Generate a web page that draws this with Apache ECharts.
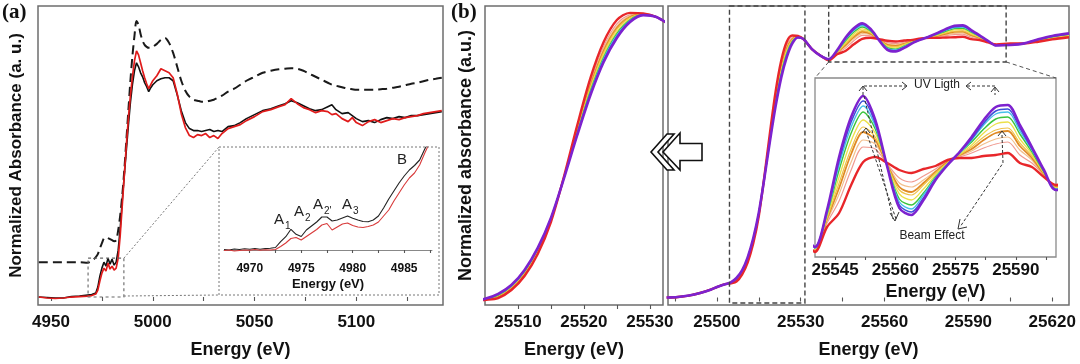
<!DOCTYPE html>
<html><head><meta charset="utf-8">
<script src="https://cdn.jsdelivr.net/npm/echarts@6/dist/echarts.min.js"></script>
<style>html,body{margin:0;padding:0;background:#fff}#c{width:1080px;height:364px}</style>
</head><body><div id="c"></div>
<script>
// ---------- Panel (a) main spectra ----------
const energyA = [4944,4948,4952,4956,4960,4964,4968,4970,4972,
 4973,4974,4975,4976,4977,4978,4979,4980,4981,4982,4983,4984,4985,4986,4987,4988,4989,4990,4991,4992,4993,4994,4995,4996,4997,4998,4999,5000,
 5002,5004,5006,5008,5010,5012,5014,5016,5018,5020,5022,5024,5026,5028,5030,5032,5034,
 5037,5040,5043,5046,5050,5054,5058,5062,5065,5068,5071,5074,5077,5080,5083,5086,
 5088,5090,5093,5096,5098,5100,5103,5106,5109,5112,5115,5118,5121,5124,5127,5130,5133,5136,5139,5142];
const blackA = [0.00,-0.005,-0.01,-0.01,0.005,0.01,0.02,0.025,0.04,
 0.10,0.21,0.29,0.35,0.31,0.39,0.33,0.38,0.32,0.35,0.47,0.69,0.97,1.22,1.47,1.72,1.95,2.13,2.27,2.35,2.31,2.25,2.21,2.15,2.11,2.06,2.10,2.13,
 2.17,2.19,2.20,2.20,2.17,2.03,1.87,1.75,1.69,1.67,1.67,1.66,1.67,1.68,1.66,1.67,1.66,
 1.71,1.72,1.75,1.79,1.83,1.87,1.89,1.92,1.94,1.97,1.95,1.92,1.89,1.87,1.88,1.91,
 1.93,1.88,1.84,1.85,1.82,1.79,1.76,1.77,1.75,1.78,1.80,1.79,1.81,1.80,1.82,1.82,1.83,1.84,1.85,1.86];
const redA = [0.00,-0.01,-0.015,-0.01,0.00,0.005,0.01,0.015,0.03,
 0.07,0.16,0.24,0.29,0.26,0.34,0.28,0.31,0.27,0.29,0.39,0.62,0.92,1.22,1.52,1.79,2.02,2.21,2.37,2.47,2.43,2.35,2.27,2.20,2.14,2.09,2.13,2.17,
 2.22,2.29,2.27,2.25,2.20,2.04,1.84,1.70,1.62,1.60,1.63,1.62,1.64,1.60,1.62,1.59,1.64,
 1.69,1.71,1.73,1.77,1.81,1.86,1.88,1.91,1.93,1.99,1.94,1.90,1.88,1.85,1.87,1.86,
 1.83,1.84,1.79,1.76,1.80,1.75,1.72,1.76,1.78,1.75,1.77,1.79,1.78,1.80,1.81,1.82,1.84,1.85,1.86,1.87];
const dashedA = [0.35,0.35,0.35,0.35,0.35,0.35,0.345,0.36,0.40,
 0.43,0.49,0.54,0.59,0.60,0.59,0.58,0.57,0.56,0.57,0.67,0.82,1.02,1.27,1.57,1.87,2.17,2.42,2.62,2.77,2.73,2.64,2.57,2.53,2.51,2.50,2.50,2.51,
 2.54,2.58,2.60,2.55,2.45,2.31,2.17,2.07,2.01,1.98,1.97,1.96,1.96,1.97,1.98,2.00,2.02,
 2.06,2.09,2.13,2.17,2.21,2.25,2.27,2.285,2.29,2.295,2.29,2.27,2.24,2.21,2.18,2.15,
 2.13,2.12,2.105,2.09,2.085,2.08,2.08,2.08,2.08,2.085,2.09,2.10,2.11,2.125,2.14,2.15,2.165,2.18,2.19,2.20];

// ---------- Panel (a) inset (pre-edge) ----------
const energyInsetA = [4967.5,4968,4968.5,4969,4969.5,4970,4970.5,4971,4971.5,4972,4972.5,4973,4973.5,4974,4974.5,4975,4975.5,4976,4976.5,4977,4977.5,
 4978,4978.5,4979,4979.5,4980,4980.5,4981,4981.5,4982,4982.5,4983,4983.5,4984,4984.5,4985,4985.5,4986,4986.5,4987,4987.5];
const blackInsetA = [0.005,0.000,0.010,0.005,0.012,0.007,0.015,0.008,0.014,0.017,0.025,0.083,0.133,0.207,0.157,0.135,0.200,0.240,0.280,0.330,0.330,
 0.290,0.300,0.320,0.340,0.317,0.300,0.285,0.283,0.300,0.340,0.420,0.510,0.590,0.670,0.740,0.800,0.845,0.900,1.010,1.100];
const redInsetA = [-0.005,0.000,-0.010,-0.005,0.000,-0.003,0.005,-0.002,0.002,0.000,0.005,0.035,0.070,0.115,0.125,0.100,0.135,0.170,0.205,0.250,0.265,
 0.200,0.230,0.260,0.270,0.245,0.230,0.225,0.235,0.250,0.280,0.340,0.400,0.490,0.570,0.650,0.720,0.770,0.850,0.970,1.080];

// ---------- Panel (b) spectra (same data shown in three frames) ----------
const energyB = [25482,25486,25490,25494,25498,25500,25503,
 25505,25507,25509,25511,25513,25515,25517,25519,25521,25523,25525,25527,25529,25531,
 25534,25537,
 25540,25543,25546,25549,25552,25555,25558,25561,25564,25567,25570,25573,25576,25579,25582,25585,25588,25591,25594,25597,25600,
 25605,25610,25615,25620,25626];
const purpleB = [0.000,0.002,0.008,0.019,0.034,0.044,0.056,
 0.064,0.082,0.114,0.169,0.249,0.358,0.503,0.659,0.804,0.924,1.011,1.069,1.094,1.087,
 1.045,1.018,
 1.003,1.040,1.093,1.133,1.154,1.130,1.083,1.042,1.035,1.050,1.070,1.085,1.098,1.113,1.130,1.143,1.145,1.125,1.103,1.080,1.060,
 1.062,1.069,1.086,1.100,1.111];
const blueB = [0.000,0.002,0.008,0.019,0.034,0.044,0.056,
 0.064,0.081,0.113,0.167,0.247,0.357,0.504,0.662,0.809,0.930,1.016,1.072,1.094,1.087,
 1.045,1.018,
 1.003,1.039,1.089,1.128,1.149,1.127,1.083,1.045,1.038,1.052,1.071,1.085,1.098,1.111,1.127,1.139,1.141,1.122,1.101,1.079,1.060,
 1.063,1.069,1.085,1.099,1.110];
const cyanB = [0.000,0.002,0.008,0.019,0.034,0.044,0.056,
 0.063,0.080,0.111,0.166,0.246,0.356,0.504,0.664,0.813,0.935,1.021,1.074,1.095,1.087,
 1.045,1.018,
 1.002,1.037,1.085,1.123,1.144,1.124,1.084,1.048,1.041,1.055,1.072,1.086,1.097,1.110,1.125,1.136,1.138,1.119,1.100,1.079,1.061,
 1.063,1.069,1.085,1.098,1.109];
const greenB = [0.000,0.002,0.008,0.019,0.034,0.044,0.056,
 0.063,0.078,0.110,0.164,0.244,0.354,0.505,0.668,0.819,0.941,1.027,1.077,1.095,1.087,
 1.045,1.018,
 1.002,1.036,1.080,1.117,1.138,1.121,1.084,1.051,1.045,1.057,1.073,1.086,1.097,1.108,1.121,1.131,1.133,1.116,1.098,1.078,1.061,
 1.064,1.069,1.084,1.097,1.107];
const yellowB = [0.000,0.002,0.008,0.019,0.034,0.044,0.056,
 0.063,0.077,0.108,0.161,0.241,0.353,0.506,0.672,0.826,0.950,1.034,1.081,1.096,1.087,
 1.045,1.018,
 1.001,1.034,1.073,1.109,1.130,1.117,1.084,1.056,1.050,1.061,1.075,1.087,1.096,1.105,1.117,1.126,1.128,1.111,1.096,1.077,1.062,
 1.065,1.069,1.082,1.095,1.105];
const goldB = [0.000,0.002,0.008,0.019,0.034,0.044,0.056,
 0.062,0.075,0.106,0.159,0.239,0.351,0.506,0.676,0.833,0.958,1.042,1.085,1.097,1.087,
 1.045,1.018,
 1.001,1.032,1.067,1.101,1.123,1.113,1.085,1.060,1.055,1.065,1.077,1.087,1.095,1.103,1.113,1.120,1.122,1.107,1.094,1.077,1.062,
 1.065,1.069,1.081,1.093,1.103];
const orangeB = [0.000,0.002,0.008,0.019,0.034,0.044,0.056,
 0.062,0.074,0.104,0.157,0.237,0.350,0.507,0.679,0.838,0.964,1.047,1.087,1.097,1.087,
 1.045,1.018,
 1.000,1.031,1.062,1.096,1.118,1.110,1.085,1.063,1.058,1.067,1.078,1.088,1.095,1.101,1.110,1.117,1.119,1.104,1.092,1.076,1.063,
 1.066,1.069,1.081,1.092,1.102];
const peachB = [0.000,0.002,0.008,0.019,0.034,0.044,0.056,
 0.061,0.072,0.102,0.154,0.234,0.348,0.508,0.683,0.845,0.972,1.054,1.091,1.098,1.087,
 1.045,1.018,
 1.000,1.029,1.056,1.088,1.110,1.106,1.086,1.067,1.063,1.070,1.079,1.088,1.094,1.099,1.106,1.111,1.113,1.100,1.090,1.075,1.063,
 1.067,1.069,1.079,1.091,1.100];
const salmonB = [0.000,0.002,0.008,0.019,0.034,0.044,0.056,
 0.061,0.070,0.100,0.152,0.232,0.346,0.508,0.687,0.852,0.980,1.062,1.095,1.099,1.087,
 1.045,1.018,
 0.999,1.027,1.049,1.080,1.103,1.101,1.086,1.072,1.068,1.074,1.081,1.089,1.093,1.097,1.102,1.106,1.108,1.095,1.087,1.075,1.064,
 1.067,1.069,1.078,1.089,1.099];
const redB = [0.000,0.002,0.008,0.019,0.034,0.044,0.056,
 0.060,0.067,0.096,0.147,0.227,0.343,0.510,0.695,0.866,0.996,1.076,1.102,1.100,1.087,
 1.045,1.018,
 0.998,1.023,1.037,1.065,1.088,1.093,1.087,1.080,1.077,1.081,1.084,1.090,1.092,1.092,1.094,1.095,1.097,1.087,1.083,1.073,1.065,
 1.069,1.069,1.076,1.086,1.095];

// ---------- Tick positions / labels ----------
const ticksA = [4950,4975,5000,5025,5050,5075,5100,5125];
const labelsA = [4950,5000,5050,5100];
const ticksInsetA = [4970,4972.5,4975,4977.5,4980,4982.5,4985,4987.5];
const labelsInsetA = [4970,4975,4980,4985];
const ticksBLeft = [25510,25515,25520,25525,25530];
const labelsBLeft = [25510,25520,25530];
const ticksBRight = [25485,25500,25515,25530,25545,25560,25575,25590,25605,25620];
const labelsBRight = [25500,25530,25560,25590,25620];
const ticksBInset = [25545,25552.5,25560,25567.5,25575,25582.5,25590,25597.5];
const labelsBInset = [25545,25560,25575,25590];

// ---------- Styling ----------
const FF = "'Liberation Sans', Arial, sans-serif";
const BORDER = '#6d6d6d';
const pairs = (xs, ys) => xs.map((x, i) => [x, ys[i]]);

function xAxisDef(gi, min, max, ticks, labels, o) {
  return {
    type: 'value', gridIndex: gi, min: min, max: max,
    splitLine: {show: false},
    axisLine: {show: o.line || false, lineStyle: {color: '#888', width: 1}},
    axisTick: {show: true, inside: false, length: o.tickLen || 4, customValues: ticks, lineStyle: {color: '#555', width: 1.1}},
    axisLabel: {customValues: labels, formatter: v => String(v), color: '#111', fontWeight: 'bold', fontSize: o.fs || 17, fontFamily: FF, margin: o.margin || 9},
    name: 'Energy (eV)', nameLocation: 'middle', nameGap: o.nameGap,
    nameTextStyle: {color: '#111', fontWeight: 'bold', fontSize: o.nfs || 18, fontFamily: FF}
  };
}
function yAxisDef(gi, min, max, name, gap, fs) {
  return {
    type: 'value', gridIndex: gi, min: min, max: max,
    axisLine: {show: false}, axisTick: {show: false}, axisLabel: {show: false}, splitLine: {show: false},
    name: name || '', nameLocation: 'middle', nameRotate: 90, nameGap: gap || 0,
    nameTextStyle: {color: '#111', fontWeight: 'bold', fontSize: fs || 16, fontFamily: FF}
  };
}

const option = {
  animation: false,
  backgroundColor: '#fff',
  grid: [
    {left: 38, top: 6, width: 405, height: 299, show: true, borderColor: BORDER, borderWidth: 1.5, backgroundColor: 'transparent'},
    {left: 224, top: 147, width: 208, height: 111, show: false},
    {left: 485, top: 6, width: 178, height: 299, show: true, borderColor: BORDER, borderWidth: 1.5, backgroundColor: 'transparent'},
    {left: 668, top: 6, width: 401, height: 299, show: true, borderColor: BORDER, borderWidth: 1.5, backgroundColor: 'transparent'},
    {left: 815, top: 78, width: 241, height: 179, show: true, borderColor: '#8a8a8a', borderWidth: 1.3, backgroundColor: '#fff'}
  ],
  xAxis: [
    xAxisDef(0, 4943.6, 5142.6, ticksA, labelsA, {nameGap: 36}),
    xAxisDef(1, 4967.5, 4987.7, ticksInsetA, labelsInsetA, {line: true, tickLen: 3, fs: 12, nfs: 13, margin: 5, nameGap: 20}),
    xAxisDef(2, 25505, 25532, ticksBLeft, labelsBLeft, {nameGap: 36}),
    xAxisDef(3, 25482.5, 25626, ticksBRight, labelsBRight, {nameGap: 36}),
    xAxisDef(4, 25540, 25600, ticksBInset, labelsBInset, {tickLen: 3, margin: 5, nameGap: 26})
  ],
  yAxis: [
    yAxisDef(0, -0.08, 2.92, 'Normalized Absorbance (a. u.)', 13, 17),
    yAxisDef(1, -0.08, 1.03),
    yAxisDef(2, 0.0417, 1.127, 'Normalized absorbance (a.u.)', 10, 18),
    yAxisDef(3, -0.0316, 1.2263),
    yAxisDef(4, 0.993, 1.172)
  ],
  series: []
};

function line(gi, data, color, width, extra) {
  return Object.assign({
    type: 'line', xAxisIndex: gi, yAxisIndex: gi, data: data, symbol: 'none', showSymbol: false,
    lineStyle: {color: color, width: width}, silent: true, clip: true
  }, extra || {});
}

// panel (a)
option.series.push(line(0, pairs(energyA, dashedA), '#1a1a1a', 2, {smooth: 0.3, lineStyle: {color: '#1a1a1a', width: 2, type: [9, 5]}}));
option.series.push(line(0, pairs(energyA, blackA), '#111', 1.6));
option.series.push(line(0, pairs(energyA, redA), '#e01b1b', 1.7));
option.series.push(line(1, pairs(energyInsetA, blackInsetA), '#222', 1.1));
option.series.push(line(1, pairs(energyInsetA, redInsetA), '#d83a3a', 1.1));

// panel (b): thin intermediate spectra first, thick extremes on top
const spectraB = [
  {values: salmonB, color: '#f09a90', width: 1.2},
  {values: peachB, color: '#f3c08e', width: 1.2},
  {values: orangeB, color: '#e08a24', width: 1.8},
  {values: goldB, color: '#efc24a', width: 1.2},
  {values: yellowB, color: '#ece04a', width: 1.3},
  {values: greenB, color: '#3cc43c', width: 1.4},
  {values: cyanB, color: '#48c0ea', width: 1.4},
  {values: blueB, color: '#3d4fd8', width: 1.5},
  {values: redB, color: '#e8262a', width: 2.4},
  {values: purpleB, color: '#7d22cf', width: 2.6}
];
spectraB.forEach((s, k) => {
  [2, 3, 4].forEach(gi => {
    option.series.push(line(gi, pairs(energyB, s.values), s.color, s.width, {smooth: 0.3, z: 2 + k * 0.01}));
  });
});

const chart = echarts.init(document.getElementById('c'));
chart.setOption(option);

// ---------- annotations (positions from the axes) ----------
const P = (gi, x, y) => chart.convertToPixel({xAxisIndex: gi, yAxisIndex: gi}, [x, y]);
const zoomBoxA = {x0: 4968.2, x1: 4985.8, y0: 0.0, y1: 0.39};
const insetFrameA = {left: 219, top: 147, right: 439, bottom: 295};
const zoomBoxB1 = {x0: 25504.5, x1: 25531.5, y0: -0.023, y1: 1.2263};
const zoomBoxB2 = {x0: 25540, x1: 25603.5, y0: 0.991, y1: 1.2263};

const G = [];
function rect(a, b, style) {
  G.push({type: 'rect', silent: true, z: 50, shape: {x: a[0], y: a[1], width: b[0] - a[0], height: b[1] - a[1]}, style: Object.assign({fill: null}, style)});
}
function poly(pts, style) {
  G.push({type: 'polyline', silent: true, z: 50, shape: {points: pts}, style: Object.assign({fill: null}, style)});
}
function text(x, y, t, font, extra) {
  G.push(Object.assign({type: 'text', silent: true, z: 60, x: x, y: y, style: {text: t, font: font, fill: '#222', align: 'center', verticalAlign: 'middle'}}, extra || {}));
}
const dotted = {stroke: '#777', lineWidth: 1, lineDash: [2, 2]};
const dashedB = {stroke: '#444', lineWidth: 1.4, lineDash: [5, 3]};
const annot = {stroke: '#333', lineWidth: 1, lineDash: [3, 2]};
const head = {stroke: '#333', lineWidth: 1};

// (a) zoom box, inset frame, connectors
const a0 = P(0, zoomBoxA.x0, zoomBoxA.y1), a1 = P(0, zoomBoxA.x1, zoomBoxA.y0);
rect(a0, a1, {stroke: '#666', lineWidth: 1.1, lineDash: [3, 3]});
rect([insetFrameA.left, insetFrameA.top], [insetFrameA.right, insetFrameA.bottom], dotted);
poly([[a1[0], a0[1]], [insetFrameA.left, insetFrameA.top]], dotted);
poly([[a1[0], a1[1] - 1], [insetFrameA.left, insetFrameA.bottom]], dotted);

// (a) inset peak labels
const lblFont = "15px 'Liberation Sans', Arial, sans-serif";
const subFont = "10px 'Liberation Sans', Arial, sans-serif";
[[279, 220, '1'], [299, 212, '2'], [318, 205, "2'"], [347, 205, '3']].forEach(([x, y, s]) => {
  text(x, y, 'A', lblFont);
  text(x + 6, y + 6, s, subFont, {style: {text: s, font: subFont, fill: '#222', align: 'left', verticalAlign: 'middle'}});
});
text(402, 160, 'B', lblFont);

// (b) zoom boxes and connectors
const b10 = P(3, zoomBoxB1.x0, zoomBoxB1.y1), b11 = P(3, zoomBoxB1.x1, zoomBoxB1.y0);
rect(b10, b11, dashedB);
const b20 = P(3, zoomBoxB2.x0, zoomBoxB2.y1), b21 = P(3, zoomBoxB2.x1, zoomBoxB2.y0);
rect(b20, b21, dashedB);
poly([[b20[0], b21[1]], [815, 78]], {stroke: '#555', lineWidth: 1, lineDash: [4, 3]});
poly([[b21[0], b21[1]], [1056, 78]], {stroke: '#555', lineWidth: 1, lineDash: [4, 3]});

// (b) inset annotations
const smallFont = "12px 'Liberation Sans', Arial, sans-serif";
text(937, 85, 'UV Ligth', smallFont);
text(932, 236, 'Beam Effect', smallFont);
poly([[863, 95], [863, 86], [906, 86]], annot);
poly([[902, 82], [907, 86], [902, 90]], head);
poly([[859, 91], [863, 86], [867, 91]], head);
poly([[967, 86], [995, 86], [995, 95]], annot);
poly([[971, 82], [966, 86], [971, 90]], head);
poly([[991, 92], [995, 87], [999, 92]], head);
poly([[864, 96], [893, 219]], annot);
poly([[866, 131], [896, 219]], annot);
poly([[862, 133], [866, 128], [870, 133]], head);
poly([[890, 213], [895, 221], [899, 212]], head);
poly([[1002, 135], [1003, 163], [960, 227]], annot);
poly([[998, 136], [1002, 131], [1006, 136]], head);
poly([[960, 219], [958, 229], [967, 227]], head);

// arrow between panels
G.push({type: 'polygon', silent: true, z: 70, shape: {points: [[663,152],[680,133],[680,143.5],[702,143.5],[702,160.5],[680,160.5],[680,170]]}, style: {fill: '#fff', stroke: '#111', lineWidth: 1.6}});
G.push({type: 'polygon', silent: true, z: 71, shape: {points: [[651,152],[667,134],[674,134],[658,152],[674,170],[667,170]]}, style: {fill: '#fff', stroke: '#111', lineWidth: 1.6}});

// panel letters
const letterFont = "bold 21px 'Liberation Serif', 'Times New Roman', serif";
text(2, 13, '(a)', letterFont, {style: {text: '(a)', font: letterFont, fill: '#111', align: 'left', verticalAlign: 'middle'}});
text(451, 13, '(b)', letterFont, {style: {text: '(b)', font: letterFont, fill: '#111', align: 'left', verticalAlign: 'middle'}});

chart.setOption({graphic: G});
</script></body></html>
